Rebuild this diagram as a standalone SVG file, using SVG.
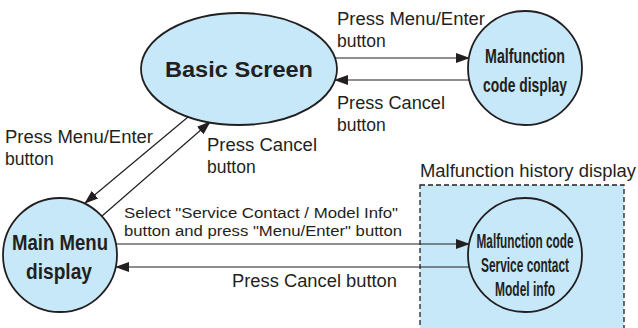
<svg xmlns="http://www.w3.org/2000/svg" width="638" height="328" viewBox="0 0 638 328">
<defs>
<style>
.node{fill:#c6e8f8;stroke:#231f20;stroke-width:1.8}
.box{fill:#c6e8f8;stroke:#231f20;stroke-width:1.3;stroke-dasharray:5 3}
.conn{fill:none;stroke:#231f20;stroke-width:1.2}
.lbl{font-family:"Liberation Sans",Arial,sans-serif;font-size:17.5px;fill:#231f20}
.sel{font-family:"Liberation Sans",Arial,sans-serif;font-size:15.5px;fill:#231f20}
.bold{font-family:"Liberation Sans",Arial,sans-serif;font-weight:bold;font-size:22px;fill:#231f20}
.narrow{font-family:"Liberation Sans Narrow","Liberation Sans",Arial,sans-serif;font-weight:bold;fill:#231f20;text-anchor:middle}
</style>
<marker id="ah" markerWidth="14" markerHeight="10" refX="13" refY="5" orient="auto" markerUnits="userSpaceOnUse">
<path d="M0,0 L14,5 L0,10 Z" fill="#231f20"/>
</marker>
</defs>
<rect width="638" height="328" fill="#ffffff"/>

<g id="history-box">
<rect class="box" x="420" y="185" width="204" height="150"/>
<text class="lbl" x="420" y="177" textLength="216" lengthAdjust="spacingAndGlyphs">Malfunction history display</text>
</g>

<g id="connectors">
<line class="conn" x1="335" y1="58" x2="469" y2="58" marker-end="url(#ah)"/>
<line class="conn" x1="469" y1="80" x2="335" y2="80" marker-end="url(#ah)"/>
<line class="conn" x1="188" y1="117" x2="85" y2="203" marker-end="url(#ah)"/>
<line class="conn" x1="102" y1="216" x2="210" y2="122" marker-end="url(#ah)"/>
<line class="conn" x1="116" y1="244" x2="469" y2="244" marker-end="url(#ah)"/>
<line class="conn" x1="469" y1="267" x2="116" y2="267" marker-end="url(#ah)"/>
<text class="lbl" x="337" y="25" textLength="148" lengthAdjust="spacingAndGlyphs">Press Menu/Enter</text>
<text class="lbl" x="337" y="47">button</text>
<text class="lbl" x="337" y="109" textLength="108" lengthAdjust="spacingAndGlyphs">Press Cancel</text>
<text class="lbl" x="337" y="131">button</text>
<text class="lbl" x="5" y="143" textLength="148" lengthAdjust="spacingAndGlyphs">Press Menu/Enter</text>
<text class="lbl" x="5" y="165">button</text>
<text class="lbl" x="207" y="151" textLength="110" lengthAdjust="spacingAndGlyphs">Press Cancel</text>
<text class="lbl" x="207" y="173">button</text>
<text class="sel" x="124" y="218" textLength="274" lengthAdjust="spacingAndGlyphs">Select "Service Contact / Model Info"</text>
<text class="sel" x="124" y="236" textLength="278" lengthAdjust="spacingAndGlyphs">button and press "Menu/Enter" button</text>
<text class="lbl" x="232" y="287" textLength="165" lengthAdjust="spacingAndGlyphs">Press Cancel button</text>
</g>

<g id="basic-screen">
<ellipse class="node" cx="239" cy="69" rx="98" ry="56"/>
<text class="bold" x="165" y="77" textLength="148" lengthAdjust="spacingAndGlyphs">Basic Screen</text>
</g>

<g id="malfunction-code-display">
<circle class="node" cx="525" cy="68" r="57"/>
<text class="narrow" x="525" y="63" font-size="20.5" textLength="80" lengthAdjust="spacingAndGlyphs">Malfunction</text>
<text class="narrow" x="525" y="92" font-size="20.5" textLength="84" lengthAdjust="spacingAndGlyphs">code display</text>
</g>

<g id="main-menu">
<circle class="node" cx="60" cy="255" r="57"/>
<text class="narrow" x="60" y="250" font-size="22.5" textLength="96" lengthAdjust="spacingAndGlyphs">Main Menu</text>
<text class="narrow" x="59" y="279" font-size="22.5" textLength="66" lengthAdjust="spacingAndGlyphs">display</text>
</g>

<g id="history-node">
<circle class="node" cx="525" cy="255" r="57"/>
<text class="narrow" x="525" y="248" font-size="19.5" textLength="97" lengthAdjust="spacingAndGlyphs">Malfunction code</text>
<text class="narrow" x="525" y="272" font-size="19.5" textLength="88" lengthAdjust="spacingAndGlyphs">Service contact</text>
<text class="narrow" x="525" y="296" font-size="19.5" textLength="60" lengthAdjust="spacingAndGlyphs">Model info</text>
</g>
</svg>
